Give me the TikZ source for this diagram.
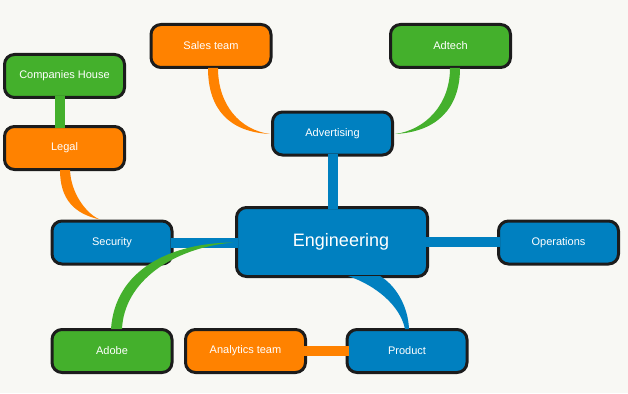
\documentclass[tikz,border=0pt]{standalone}
\usepackage{fontspec}
\setmainfont{Liberation Sans}
\usetikzlibrary{calc}
\definecolor{bgc}{RGB}{248,248,244}
\definecolor{orng}{RGB}{255,130,0}
\definecolor{grn}{RGB}{68,176,44}
\definecolor{blu}{RGB}{0,128,192}
\definecolor{edgec}{RGB}{28,28,28}
\begin{document}
\begin{tikzpicture}[x=1pt,y=-1pt,
  box/.style={draw=edgec, line width=3pt, rounded corners=10pt, minimum width=120pt, minimum height=43pt, inner sep=0pt, text=white, font=\fontsize{11}{13}\selectfont},
  bluebox/.style={box, fill=blu},
  orangebox/.style={box, fill=orng},
  greenbox/.style={box, fill=grn},
  bar/.style={line width=10pt, line cap=butt, shorten <=-3pt, shorten >=-3pt},
]
\fill[bgc] (0,0) rectangle (628,393);
\useasboundingbox (0,0) rectangle (628,393);

\node[orangebox] (sales) at (211,46) {Sales team};
\node[greenbox] (adtech) at (450.5,46) {Adtech};
\node[bluebox] (adv) at (332.5,133.5) {Advertising};
\node[greenbox] (comp) at (64.5,76) {Companies House};
\node[orangebox] (legal) at (64.5,148) {Legal};
\node[bluebox] (sec) at (112,242.5) {Security};
\node[bluebox, minimum width=191pt, minimum height=69pt, font=\fontsize{18}{22}\selectfont] (eng) at (332,242) {\hspace*{18pt}Engineering};
\node[bluebox] (ops) at (558.5,242.5) {Operations};
\node[greenbox] (adobe) at (112,351) {Adobe};
\node[orangebox] (analytics) at (245.5,351) {Analytics team};
\node[bluebox] (product) at (407,351) {Product};

% straight connectors
\draw[grn,bar] ($(comp.south)+(-5,0)$) -- ($(legal.north)+(-5,0)$);
\draw[blu,bar] (adv.south) -- (adv.south |- eng.north);
\draw[blu,bar] (sec.east) -- (sec.east -| eng.west);
\draw[blu,bar] (eng.east) -- (eng.east -| ops.west);
\draw[orng,bar] (analytics.east) -- (product.west);

% tapered connectors
\fill[orng] ($(legal.south)+(-4.5,-1)$) .. controls (60,200) and (75,214) .. ($(sec.north)+(-12,0)$)
  .. controls (88,215) and (71,195) .. ($(legal.south)+(5.5,-1)$) -- cycle;
\fill[orng] ($(sales.south)+(-3,-1)$) .. controls (208,110) and (230,132) .. ($(adv.west)+(-1,0.5)$)
  .. controls (240,130) and (218,105) .. ($(sales.south)+(7,-1)$) -- cycle;
\fill[grn] ($(adtech.south)+(9.5,-1)$) .. controls (460,110) and (435,132) .. ($(adv.east)+(1,0.5)$)
  .. controls (425,130) and (450,105) .. ($(adtech.south)+(-0.5,-1)$) -- cycle;
\fill[grn] ($(adobe.north)+(-1,1)$) .. controls (115,270) and (170,243) .. ($(eng.west)+(-2,0.5)$)
  .. controls (172,248) and (124,282) .. ($(adobe.north)+(10,1)$) -- cycle;
\fill[blu] ($(eng.south)+(16,-2)$) .. controls (375,285) and (400,305) .. ($(product.north)+(-2,1)$)
  -- ($(product.north)+(2,1)$) .. controls (408,305) and (395,285) .. ($(eng.south)+(48,-2)$) -- cycle;
\end{tikzpicture}
\end{document}
